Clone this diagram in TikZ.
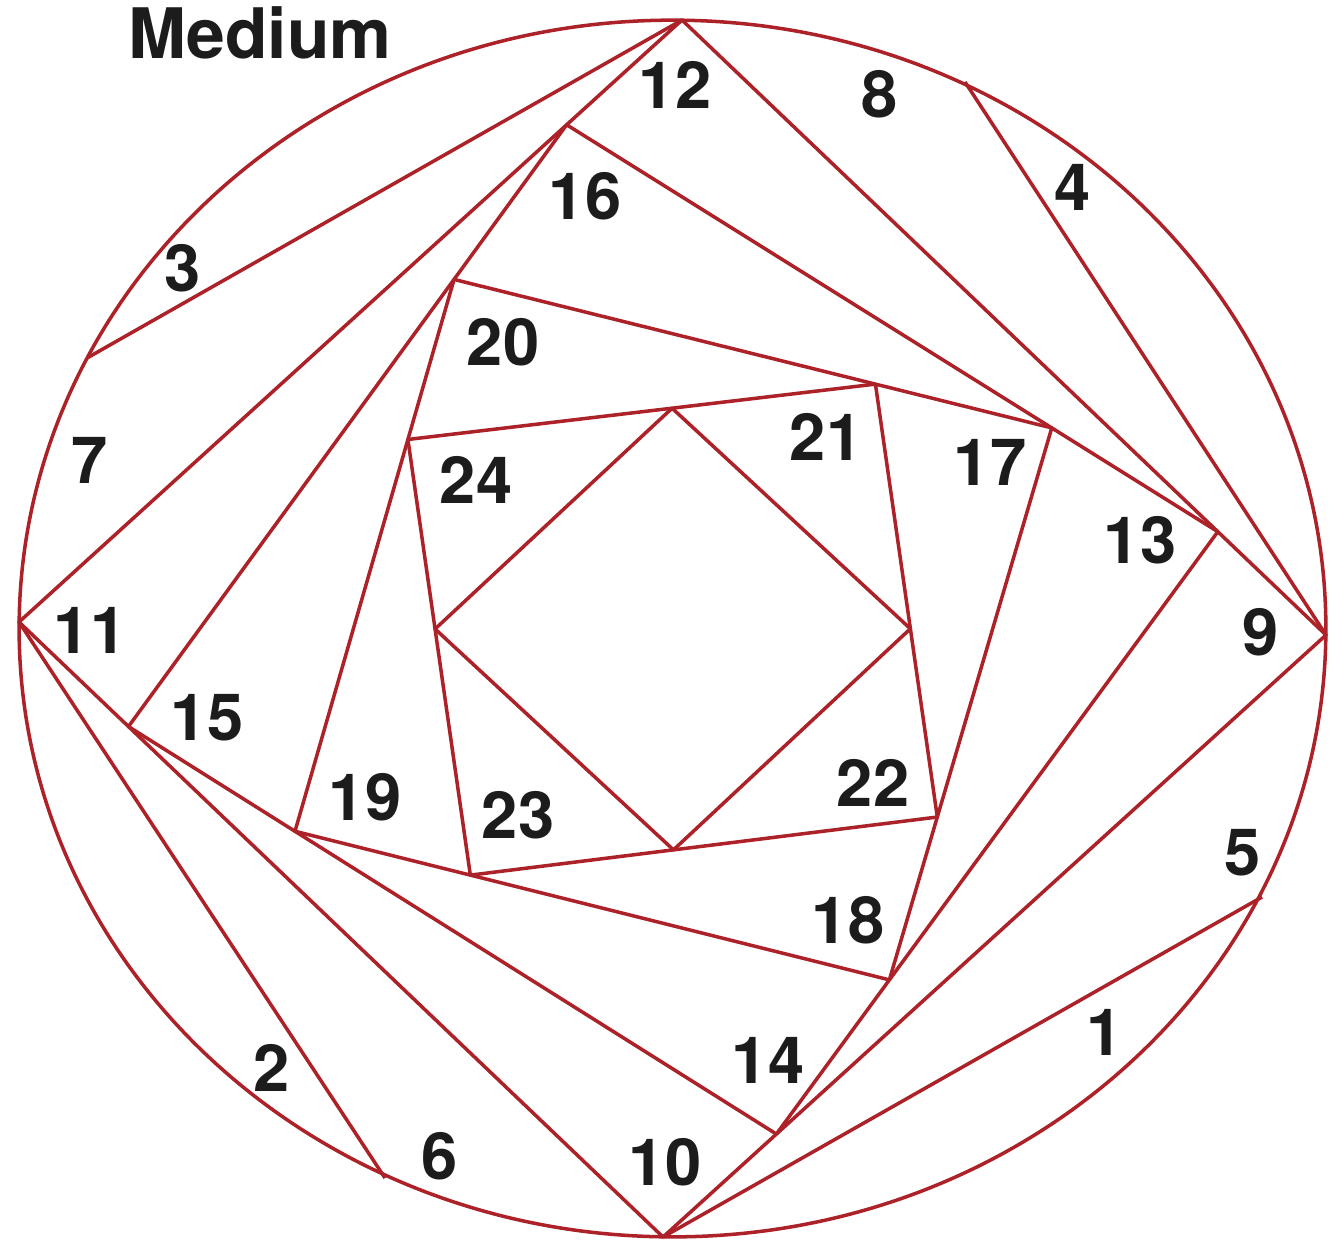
\documentclass[tikz,border=0pt]{standalone}
\usepackage{fontspec}
\newfontfamily\heros{TeX Gyre Heros}
\usetikzlibrary{calc}
\definecolor{foldred}{RGB}{172,34,40}
\definecolor{numblack}{RGB}{28,28,28}
\begin{document}
\begin{tikzpicture}[x=0.01cm, y=-0.01cm,
    fold/.style={foldred, line width=1pt, line join=round},
    num/.style={numblack, inner sep=0pt,
      font={\heros\bfseries\fontsize{18.5}{20}\selectfont}}]
  \useasboundingbox (0,0) rectangle (1330,1241);

  % outer circle and first square
  \coordinate (O) at (672.5,628.5);
  \coordinate (A1) at (682,20);
  \coordinate (B1) at (1326,635);
  \coordinate (C1) at (663,1237);
  \coordinate (D1) at (19,622);
  \draw[fold] (O) ellipse [x radius=6.53cm, y radius=6.08cm];
  \draw[fold] (A1) -- (B1) -- (C1) -- (D1) -- cycle;

  % chords of pieces 1-4
  \coordinate (P1) at (1262,897);
  \coordinate (P2) at (385,1178);
  \coordinate (P3) at (87,358);
  \coordinate (P4) at (965,82);
  \draw[fold] (P1) -- (C1);
  \draw[fold] (D1) -- (P2);
  \draw[fold] (P3) -- (A1);
  \draw[fold] (P4) -- (B1);

  % second square (pieces 9-12)
  \coordinate (A2) at ($(D1)!0.826!(A1)$);
  \coordinate (B2) at ($(A1)!0.832!(B1)$);
  \coordinate (C2) at ($(B1)!0.829!(C1)$);
  \coordinate (D2) at ($(C1)!0.830!(D1)$);
  \draw[fold] (A2) -- (B2) -- (C2) -- (D2) -- cycle;

  % third square (pieces 13-16)
  \coordinate (A3) at ($(D2)!0.743!(A2)$);
  \coordinate (B3) at ($(A2)!0.745!(B2)$);
  \coordinate (C3) at ($(B2)!0.744!(C2)$);
  \coordinate (D3) at ($(C2)!0.743!(D2)$);
  \draw[fold] (A3) -- (B3) -- (C3) -- (D3) -- cycle;

  % fourth square (pieces 17-20)
  \coordinate (A4) at ($(D3)!0.710!(A3)$);
  \coordinate (B4) at ($(A3)!0.705!(B3)$);
  \coordinate (C4) at ($(B3)!0.705!(C3)$);
  \coordinate (D4) at ($(C3)!0.705!(D3)$);
  \draw[fold] (A4) -- (B4) -- (C4) -- (D4) -- cycle;

  % centre square (pieces 21-24)
  \coordinate (A5) at ($(D4)!0.565!(A4)$);
  \coordinate (B5) at ($(A4)!0.565!(B4)$);
  \coordinate (C5) at ($(B4)!0.565!(C4)$);
  \coordinate (D5) at ($(C4)!0.565!(D4)$);
  \draw[fold] (A5) -- (B5) -- (C5) -- (D5) -- cycle;

  % piece numbers
  \node[num, font={\heros\bfseries\fontsize{19.8}{21}\selectfont}]
    (title) at (260,33) {Medium};
  \node[num] (n1) at (1105,1032) {1};
  \node[num] (n2) at (272,1068) {2};
  \node[num] (n3) at (183,268) {3};
  \node[num] (n4) at (1073,187) {4};
  \node[num] (n5) at (1243,853) {5};
  \node[num] (n6) at (440,1156) {6};
  \node[num] (n7) at (90,460) {7};
  \node[num] (n8) at (880,94) {8};
  \node[num] (n9) at (1261,632) {9};
  \node[num] (n10) at (665,1162) {10};
  \node[num] (n11) at (90,630) {11};
  \node[num] (n12) at (675,85) {12};
  \node[num] (n13) at (1140,540) {13};
  \node[num] (n14) at (768,1060) {14};
  \node[num] (n15) at (207,718) {15};
  \node[num] (n16) at (585,196) {16};
  \node[num] (n17) at (990,462) {17};
  \node[num] (n18) at (848,920) {18};
  \node[num] (n19) at (365,797) {19};
  \node[num] (n20) at (503,342) {20};
  \node[num] (n21) at (826,437) {21};
  \node[num] (n22) at (873,783) {22};
  \node[num] (n23) at (518,815) {23};
  \node[num] (n24) at (476,480) {24};
\end{tikzpicture}
\end{document}
